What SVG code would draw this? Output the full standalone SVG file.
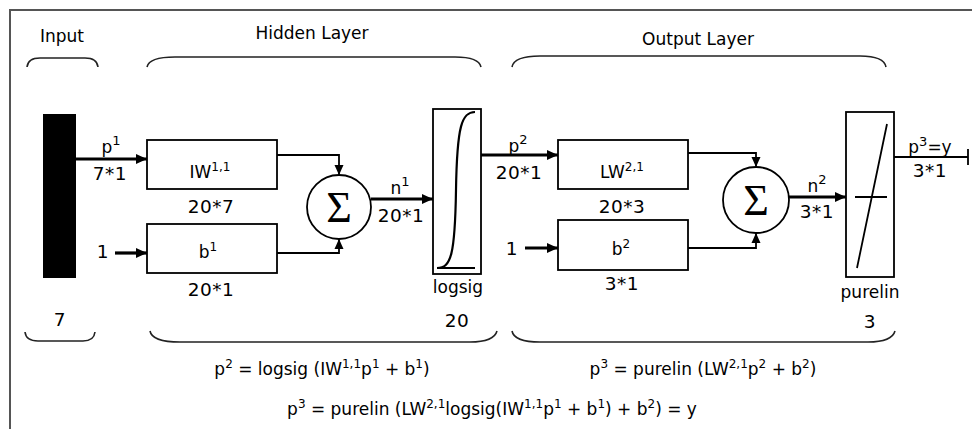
<svg xmlns="http://www.w3.org/2000/svg" width="972" height="429" viewBox="0 0 972 429">
<style>
text{font-family:"DejaVu Sans","Liberation Sans",sans-serif;font-size:17px;fill:#000;text-anchor:middle}
.n{font-size:18.5px;letter-spacing:0.5px}
.box{fill:#fff;stroke:#000;stroke-width:1.8}
.thin{fill:none;stroke:#000;stroke-width:1.8}
.thick{fill:none;stroke:#000;stroke-width:3.2}
.brace{fill:none;stroke:#222;stroke-width:1.6}
.sig{font-family:"Liberation Serif","DejaVu Serif",serif;font-size:44px}
</style>
<defs>
<marker id="ah" markerUnits="userSpaceOnUse" markerWidth="12" markerHeight="12" viewBox="0 0 12 12" refX="11" refY="6" orient="auto">
<path d="M0,1 L11,6 L0,11 Z" fill="#000"/>
</marker>
<marker id="ahs" markerUnits="userSpaceOnUse" markerWidth="11" markerHeight="11" viewBox="0 0 11 11" refX="10" refY="5.5" orient="auto">
<path d="M0,1 L10,5.5 L0,10 Z" fill="#000"/>
</marker>
</defs>
<rect width="972" height="429" fill="#fff"/>
<rect x="10" y="10" width="1000" height="1000" fill="none" stroke="#555" stroke-width="2"/>

<g id="braces">
<path class="brace" d="M27,67 Q28,58 40,58 H85 Q97,58 98,67"/>
<path class="brace" d="M147,67 Q149,57 175,57 H455 Q479,57 481,67"/>
<path class="brace" d="M512,67 Q514,56 540,56 H860 Q884,56 886,67"/>
<path class="brace" d="M25,332 Q26,341 38,341 H83 Q94,341 95,332"/>
<path class="brace" d="M150,331 Q152,342 180,342 H470 Q494,342 497,331"/>
<path class="brace" d="M512,331 Q514,342 540,342 H868 Q892,342 895,331"/>
<text x="62" y="42">Input</text>
<text x="312" y="39">Hidden Layer</text>
<text x="698" y="45">Output Layer</text>
</g>

<g id="input">
<rect x="43" y="114" width="33" height="164" fill="#000"/>
<text class="n" x="60" y="326">7</text>
</g>

<g id="IW">
<rect class="box" x="147" y="140" width="130" height="49"/>
<text x="210" y="178">IW<tspan dy="-7" font-size="12">1,1</tspan></text>
<text class="n" x="211" y="213">20*7</text>
</g>

<g id="b1">
<rect class="box" x="147" y="224" width="130" height="49"/>
<text x="208" y="258">b<tspan dy="-7" font-size="12">1</tspan></text>
<text class="n" x="211" y="296">20*1</text>
</g>

<g id="sum1">
<circle cx="339" cy="207" r="32" fill="#fff" stroke="#000" stroke-width="1.8"/>
<text class="sig" x="339" y="222">Σ</text>
</g>

<g id="logsig">
<rect class="box" x="433" y="109" width="48" height="165"/>
<path class="thin" d="M437,268 H475"/>
<path fill="none" stroke="#000" stroke-width="2.2" d="M437,268 C451,268 455,255 456,190 C457,125 462,112 475,112"/>
<text x="458" y="293">logsig</text>
<text class="n" x="457" y="327">20</text>
</g>

<g id="LW">
<rect class="box" x="558" y="140" width="130" height="49"/>
<text x="622" y="178">LW<tspan dy="-7" font-size="12">2,1</tspan></text>
<text class="n" x="622" y="213">20*3</text>
</g>

<g id="b2">
<rect class="box" x="558" y="220" width="130" height="50"/>
<text x="621" y="255">b<tspan dy="-7" font-size="12">2</tspan></text>
<text class="n" x="622" y="290">3*1</text>
</g>

<g id="sum2">
<circle cx="756" cy="200" r="33" fill="#fff" stroke="#000" stroke-width="1.8"/>
<text class="sig" x="756" y="215">Σ</text>
</g>

<g id="purelin">
<rect class="box" x="846" y="112" width="48" height="165"/>
<path class="thin" d="M857,268 L887,124 M855,197 H887"/>
<text x="870" y="298">purelin</text>
<text class="n" x="870" y="328">3</text>
</g>

<g id="connectors">
<path class="thick" d="M76,159 H147" marker-end="url(#ah)"/>
<path class="thick" d="M115,253 H147" marker-end="url(#ah)"/>
<path class="thin" d="M277,155 H339 V175" marker-end="url(#ahs)"/>
<path class="thin" d="M277,253 H339 V239" marker-end="url(#ahs)"/>
<path class="thick" d="M371,199 H433" marker-end="url(#ah)"/>
<path class="thick" d="M481,155 H558" marker-end="url(#ah)"/>
<path class="thick" d="M525,248 H558" marker-end="url(#ah)"/>
<path class="thin" d="M688,153 H756 V167" marker-end="url(#ahs)"/>
<path class="thin" d="M688,248 H756 V233" marker-end="url(#ahs)"/>
<path class="thick" d="M789,197 H846" marker-end="url(#ah)"/>
<path class="thin" d="M894,157 H968 M968,149 V165"/>
</g>

<g id="labels">
<text x="111" y="153">p<tspan dy="-8" font-size="13">1</tspan></text>
<text class="n" x="110" y="180">7*1</text>
<text class="n" x="103" y="258">1</text>
<text x="400" y="194">n<tspan dy="-8" font-size="13">1</tspan></text>
<text class="n" x="401" y="222">20*1</text>
<text x="518" y="152">p<tspan dy="-8" font-size="13">2</tspan></text>
<text class="n" x="519" y="179">20*1</text>
<text class="n" x="512" y="255">1</text>
<text x="817" y="192">n<tspan dy="-8" font-size="13">2</tspan></text>
<text class="n" x="817" y="218">3*1</text>
<text x="930" y="153">p<tspan dy="-7" font-size="13">3</tspan><tspan dy="7">=y</tspan></text>
<text class="n" x="930" y="177">3*1</text>
</g>

<g id="formulas">
<text x="322" y="375">p<tspan dy="-7" font-size="12">2</tspan><tspan dy="7"> = logsig (IW</tspan><tspan dy="-7" font-size="12">1,1</tspan><tspan dy="7">p</tspan><tspan dy="-7" font-size="12">1</tspan><tspan dy="7"> + b</tspan><tspan dy="-7" font-size="12">1</tspan><tspan dy="7">)</tspan></text>
<text x="703" y="375">p<tspan dy="-7" font-size="12">3</tspan><tspan dy="7"> = purelin (LW</tspan><tspan dy="-7" font-size="12">2,1</tspan><tspan dy="7">p</tspan><tspan dy="-7" font-size="12">2</tspan><tspan dy="7"> + b</tspan><tspan dy="-7" font-size="12">2</tspan><tspan dy="7">)</tspan></text>
<text x="492" y="415">p<tspan dy="-7" font-size="12">3</tspan><tspan dy="7"> = purelin (LW</tspan><tspan dy="-7" font-size="12">2,1</tspan><tspan dy="7">logsig(IW</tspan><tspan dy="-7" font-size="12">1,1</tspan><tspan dy="7">p</tspan><tspan dy="-7" font-size="12">1</tspan><tspan dy="7"> + b</tspan><tspan dy="-7" font-size="12">1</tspan><tspan dy="7">) + b</tspan><tspan dy="-7" font-size="12">2</tspan><tspan dy="7">) = y</tspan></text>
</g>
</svg>
